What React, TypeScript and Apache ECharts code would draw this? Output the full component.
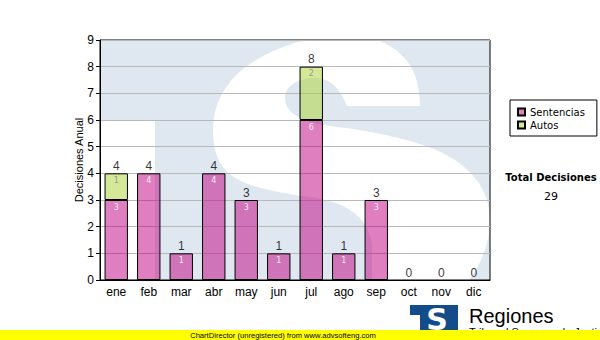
import React, { useEffect, useRef } from "react";
import * as echarts from "echarts";

const categories = ["ene", "feb", "mar", "abr", "may", "jun", "jul", "ago", "sep", "oct", "nov", "dic"];
const sentencias = [3, 4, 1, 4, 3, 1, 6, 1, 3, 0, 0, 0];
const autos = [1, 0, 0, 0, 0, 0, 2, 0, 0, 0, 0, 0];
const totals = [4, 4, 1, 4, 3, 1, 8, 1, 3, 0, 0, 0];
const totalDecisiones = 29;
const yMin = 0;
const yMax = 9;
const yInterval = 1;

const S_PATH =
  "M420 106 L347 106 C340 88 330 78 315 78 C298 78 285 86 285 98 C285 112 300 122 330 126 " +
  "C370 131 425 140 455 160 C480 177 490 198 490 220 C490 250 475 280 450 300 L372 300 L372 245 " +
  "C368 215 345 202 310 197 C280 193 250 188 232 176 C218 166 213 150 213 130 C213 95 235 70 265 55 " +
  "C290 42 320 35 345 35 C380 35 405 50 415 75 C418 85 420 95 420 106 Z";

echarts.graphic.registerShape("wmS", echarts.graphic.extendPath(S_PATH, {}));

export default function App() {
  const ref = useRef<HTMLDivElement>(null);
  useEffect(() => {
    if (!ref.current) return;
    const chart = echarts.init(ref.current, null, { renderer: "svg" });
    const sans = "Liberation Sans, Arial, sans-serif";
    const verd = "DejaVu Sans, Verdana, sans-serif";
    chart.setOption({
      animation: false,
      backgroundColor: "#ffffff",
      grid: {
        left: 100,
        right: 110,
        top: 40,
        bottom: 60,
        show: true,
        borderColor: "#000",
        borderWidth: 1,
        backgroundColor: "transparent",
      },
      legend: {
        orient: "vertical",
        left: 510,
        top: 100,
        padding: [7, 12, 6, 7],
        itemWidth: 7,
        itemHeight: 7,
        itemGap: 3,
        borderColor: "#000",
        borderWidth: 1,
        icon: "rect",
        textStyle: { fontFamily: verd, fontSize: 10, color: "#000" },
        data: ["Sentencias", "Autos"],
      },
      xAxis: {
        type: "category",
        data: categories,
        axisLine: { lineStyle: { color: "#000", width: 1 } },
        axisTick: { alignWithLabel: true, length: 4, lineStyle: { color: "#000" } },
        axisLabel: { fontFamily: sans, fontSize: 12, color: "#000", margin: 6 },
      },
      yAxis: {
        type: "value",
        min: yMin,
        max: yMax,
        interval: yInterval,
        name: "Decisiones Anual",
        nameLocation: "middle",
        nameGap: 16,
        nameMoveOverlap: false,
        nameTextStyle: { fontFamily: sans, fontSize: 11, color: "#000" },
        axisLine: { show: true, lineStyle: { color: "#000", width: 1 } },
        axisTick: { show: true, length: 4, lineStyle: { color: "#000" } },
        axisLabel: { fontFamily: sans, fontSize: 12, color: "#000", margin: 6 },
        splitLine: { lineStyle: { color: "#b8b8b8", width: 1 } },
      },
      graphic: [
        { type: "rect", z: -10, silent: true, shape: { x: 100, y: 40, width: 390, height: 240 }, style: { fill: "#dfe8f1" } },
        { type: "rect", z: -9, silent: true, shape: { x: 101, y: 120, width: 54, height: 159 }, style: { fill: "#ffffff" } },
        { type: "wmS", z: -8, silent: true, x: 0, y: 0, style: { fill: "#ffffff" } },
        { type: "rect", z: -7, silent: true, shape: { x: 100, y: 281, width: 400, height: 30 }, style: { fill: "#ffffff" } },
        {
          type: "text",
          x: 551,
          y: 177,
          style: { text: "Total Decisiones", fill: "#000", font: `bold 10px ${verd}`, align: "center", verticalAlign: "middle" },
        },
        {
          type: "text",
          x: 551,
          y: 196,
          style: { text: String(totalDecisiones), fill: "#000", font: `11px ${verd}`, align: "center", verticalAlign: "middle" },
        },
        { type: "rect", shape: { x: 410, y: 305, width: 48, height: 26 }, style: { fill: "#134b8b" } },
        { type: "rect", shape: { x: 410, y: 315, width: 10, height: 16 }, style: { fill: "#ffffff" } },
        {
          type: "text",
          x: 437,
          y: 319,
          style: { text: "S", fill: "#ffffff", font: "bold 30px 'DejaVu Sans'", align: "center", verticalAlign: "middle" },
        },
        {
          type: "text",
          x: 469,
          y: 316,
          style: { text: "Regiones", fill: "#000", font: `20px ${sans}`, align: "left", verticalAlign: "middle" },
        },
        {
          type: "text",
          x: 469,
          y: 332,
          style: { text: "Tribunal Supremo de Justicia", fill: "#000", font: `11px ${sans}`, align: "left", verticalAlign: "middle" },
        },
        { type: "rect", shape: { x: 0, y: 330, width: 600, height: 10 }, style: { fill: "#ffff00" } },
        {
          type: "text",
          x: 283,
          y: 335,
          style: {
            text: "ChartDirector (unregistered) from www.advsofteng.com",
            fill: "#000",
            font: `7.6px ${sans}`,
            align: "center",
            verticalAlign: "middle",
          },
        },
      ],
      series: [
        {
          name: "Sentencias",
          type: "bar",
          stack: "total",
          barWidth: "72%",
          data: sentencias.map((v) => (v > 0 ? v : null)),
          itemStyle: { color: "rgba(192,0,128,0.5)", borderColor: "#000", borderWidth: 1 },
          label: {
            show: true,
            position: "insideTop",
            distance: 3,
            fontFamily: verd,
            fontSize: 8,
            color: "#f8eef4",
          },
        },
        {
          name: "Autos",
          type: "bar",
          stack: "total",
          barWidth: "72%",
          data: autos.map((v) => (v > 0 ? v : null)),
          itemStyle: { color: "rgba(170,210,50,0.5)", borderColor: "#000", borderWidth: 1 },
          label: {
            show: true,
            position: "insideTop",
            distance: 3,
            fontFamily: verd,
            fontSize: 8,
            color: "#9a9a9a",
          },
        },
        {
          name: "Total",
          type: "scatter",
          symbol: "circle",
          symbolSize: 1,
          itemStyle: { color: "transparent" },
          data: totals,
          label: {
            show: true,
            position: "top",
            distance: 1,
            fontFamily: sans,
            fontSize: 12,
            color: "#000",
          },
        },
      ],
    });
    return () => chart.dispose();
  }, []);
  return <div ref={ref} style={{ position: "absolute", left: 0, top: 0, width: 600, height: 340 }} />;
}
